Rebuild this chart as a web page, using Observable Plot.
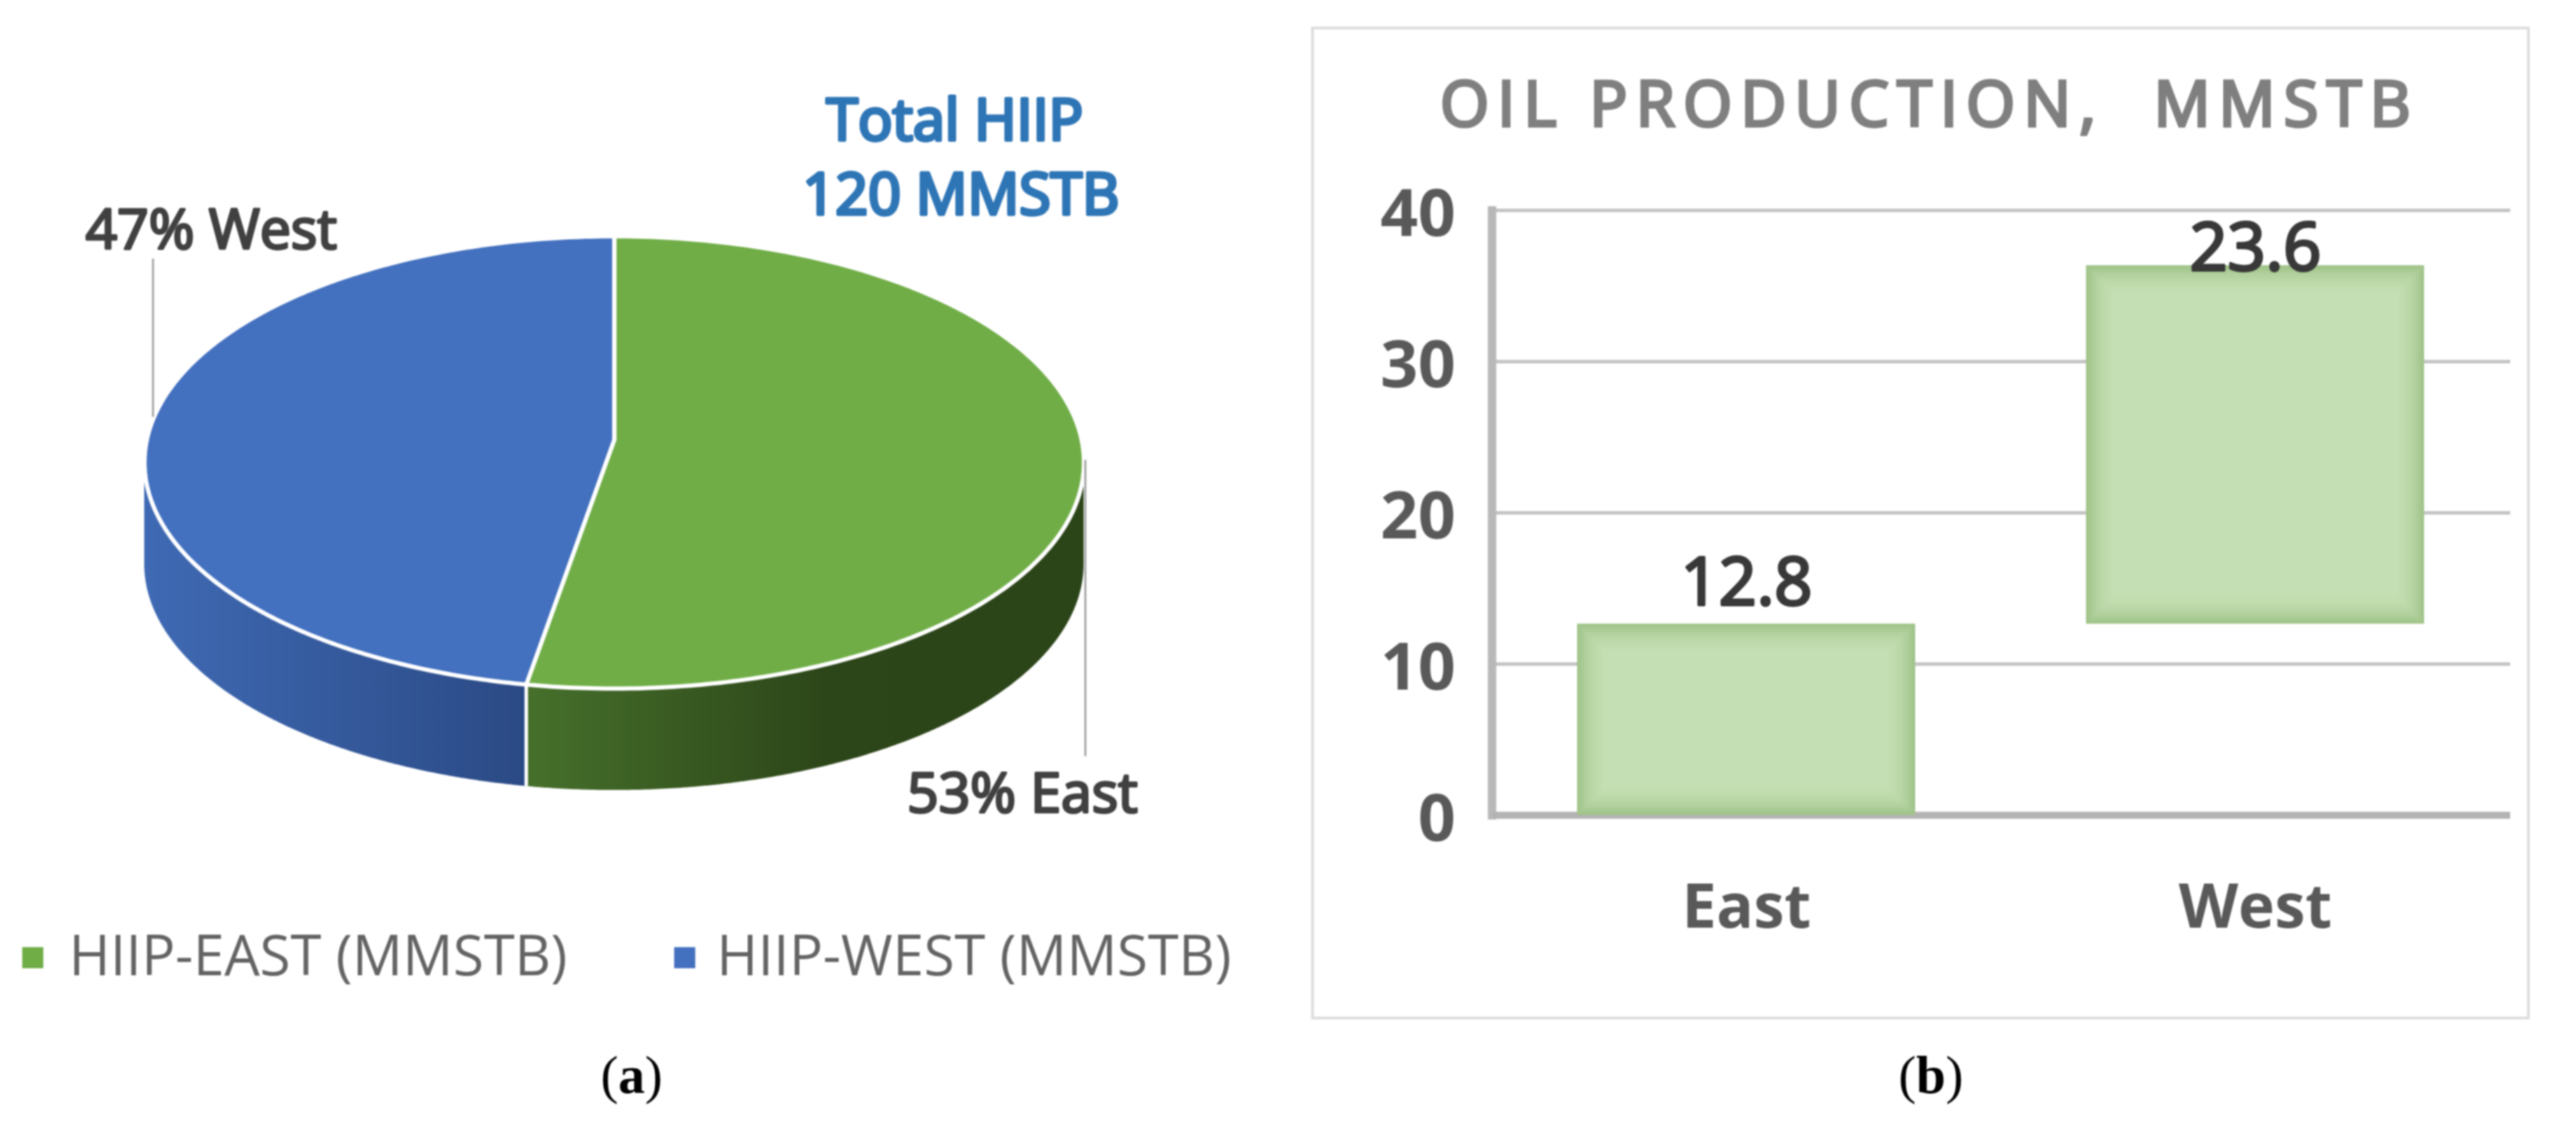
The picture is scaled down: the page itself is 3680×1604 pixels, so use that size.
<!DOCTYPE html>
<html><head><meta charset="utf-8">
<script src="https://cdn.jsdelivr.net/npm/d3@7"></script>
<script src="https://cdn.jsdelivr.net/npm/@observablehq/plot@0.6"></script>
<style>
html,body{margin:0;background:#fff}
#page{position:relative;width:3680px;height:1604px;overflow:hidden;font-family:"Open Sans",sans-serif;filter:blur(0.9px)}
#page>*{position:absolute}
.frame{left:1873px;top:38px;width:1733px;height:1410px;border:4px solid #dedede;box-sizing:content-box}
.title{left:1890px;top:95px;width:1733px;text-align:center;font-size:90px;line-height:100px;font-weight:400;-webkit-text-stroke:4.5px #7f7f7f;letter-spacing:12px;color:#7f7f7f;white-space:pre}
.cap{top:1495px;font-family:"Liberation Serif",serif;font-size:76px;line-height:80px;color:#000}
</style></head><body>
<div id="page">
<div class="frame"></div>
<div class="title">OIL PRODUCTION,  MMSTB</div>
<div class="cap" style="left:858px">(<b>a</b>)</div>
<div class="cap" style="left:2712px">(<b>b</b>)</div>
</div>
<script>
// Panel (a): share of HIIP
const regions = ["East", "West"];
const shares = [53, 47];
const legendLabels = ["HIIP-EAST (MMSTB)", "HIIP-WEST (MMSTB)"];
const sliceColors = ["#70ad47", "#4370bf"];
const totalLines = ["Total HIIP", "120 MMSTB"];

// Panel (b): oil production (labels as printed, bar extents as drawn)
const production = [12.8, 23.6];
const barBottoms = [0, 12.65];
const barTops = [12.65, 36.35];
const yTicks = [0, 10, 20, 30, 40];

// ---- pie geometry derived from the shares ----
const TAU = Math.PI * 2;
const tilt = 0.45, apexLift = 0.1;       // side depth and apex offset, in pie radii
const total = d3.sum(shares);
const split = shares[0] / total * TAU;   // clockwise from 12 o'clock
const rimPoint = a => ({a, x: Math.sin(a), y: Math.cos(a)});
const arc = (a0, a1) => d3.range(0, 241).map(i => rimPoint(a0 + (a1 - a0) * i / 240));
const apex = {x: 0, y: apexLift};
const face = (name, a0, a1) => [apex, ...arc(a0, a1), apex].map(p => ({...p, name}));
const faces = [...face("East", 0, split), ...face("West", split, TAU)];
const sideEast = arc(Math.PI / 2, split);
const sideWest = arc(split, Math.PI * 1.5);
const seam = rimPoint(split);

const gradient = (id, stops) => () => {
  const g = d3.create("svg:defs").append("linearGradient").attr("id", id);
  stops.forEach(([o, c]) => g.append("stop").attr("offset", o).attr("stop-color", c));
  return g.node().parentNode;
};

const leaderColor = "#a6a6a6", labelColor = "#404040";
const rx = 671, cx = 877, ry = 323, cy = 660;

const pie = Plot.plot({
  width: 1840, height: 1604, margin: 0,
  x: {domain: [-1, 1], range: [cx - rx, cx + rx], axis: null},
  y: {domain: [-1, 1], range: [cy + ry, cy - ry], axis: null},
  color: {domain: regions, range: sliceColors},
  marks: [
    gradient("sideE", [[0, "#46702b"], [0.55, "#2c4519"], [1, "#2b4418"]]),
    gradient("sideW", [[0, "#3f6ab4"], [1, "#2b4a85"]]),
    Plot.areaY(sideEast, {x: "x", y1: "y", y2: d => d.y - tilt, fill: "url(#sideE)"}),
    Plot.areaY(sideWest, {x: "x", y1: "y", y2: d => d.y - tilt, fill: "url(#sideW)"}),
    Plot.ruleX([seam.x], {y1: seam.y, y2: seam.y - tilt, stroke: "#fff", strokeWidth: 5}),
    Plot.line(faces, {x: "x", y: "y", z: "name", fill: "name", stroke: "#fff", strokeWidth: 6, curve: "linear", strokeLinejoin: "round"}),
    // leader lines
    Plot.ruleX([-0.982], {y1: 0.9, y2: 0.2, stroke: leaderColor, strokeWidth: 3}),
    Plot.ruleX([1.003], {y1: 0.01, y2: -1.3, stroke: leaderColor, strokeWidth: 3}),
    // data labels
    Plot.text(regions, {
      x: [0.869, -0.858], y: [-1.467, 1.025], text: (d, i) => `${shares[i]}% ${d}`,
      fontSize: 79, fill: labelColor, stroke: labelColor, strokeWidth: 3.6, fontFamily: "Open Sans"
    }),
    Plot.text(totalLines, {
      x: [0.725, 0.738], y: [1.508, 1.178], text: d => d,
      fontSize: 82, fill: "#2e75b6", stroke: "#2e75b6", strokeWidth: 5, fontFamily: "Open Sans"
    }),
    // legend
    Plot.dot(regions, {x: [-1.238, 0.15], y: -2.19, symbol: "square", r: 17, fill: d => d}),
    Plot.text(legendLabels, {
      x: [-1.161, 0.218], y: -2.19, text: d => d, textAnchor: "start",
      fontSize: 80, fill: "#636363", fontFamily: "Open Sans"
    })
  ]
});
pie.style.left = "0"; pie.style.top = "0";

const bars = regions.map((r, i) => ({r, from: barBottoms[i], to: barTops[i], v: production[i]}));
const glowLevels = 18;
const glow = d3.range(0, glowLevels).map(i => ({
  inset: i * 2.6,
  fill: d3.interpolateRgb("#9cc084", "#c4dfb3")(d3.easeQuadOut((i + 1) / glowLevels))
}));
const valueLabel = {x: "r", y: "to", text: d => d.v.toFixed(1), fontSize: 95, fill: "#383838", stroke: "#383838", strokeWidth: 4, fontFamily: "Open Sans"};

const chart = Plot.plot({
  width: 1840, height: 1604,
  marginLeft: 291, marginRight: 94, marginTop: 300, marginBottom: 440,
  x: {domain: regions, paddingInner: 0.335, paddingOuter: 0.1675, label: null},
  y: {domain: [0, 40], label: null},
  marks: [
    Plot.gridY(yTicks, {stroke: "#c4c4c4", strokeWidth: 5, strokeOpacity: 1}),
    Plot.frame({anchor: "left", stroke: "#b8b8b8", strokeWidth: 12}),
    Plot.ruleY([0], {stroke: "#b3b3b3", strokeWidth: 10}),
    ...glow.map(g => Plot.barY(bars, {x: "r", y1: "from", y2: "to", fill: g.fill, inset: g.inset})),
    Plot.axisY({ticks: yTicks, tickSize: 0, tickPadding: 52, dy: 6, fontSize: 94, fontWeight: 700, color: "#595959", fontFamily: "Open Sans", label: null}),
    Plot.axisX({tickSize: 0, tickPadding: 98, fontSize: 88, fontWeight: 700, color: "#595959", fontFamily: "Open Sans", label: null}),
    Plot.text(bars, {...valueLabel, filter: d => d.r === regions[0], dy: -58}),
    Plot.text(bars, {...valueLabel, filter: d => d.r === regions[1], dy: -24})
  ]
});
chart.style.left = "1840px"; chart.style.top = "0";
const page = document.getElementById("page");
page.prepend(pie); page.appendChild(chart);
for (const s of [pie, chart]) { s.style.position = "absolute"; s.style.maxWidth = "none"; s.style.background = "transparent"; }
</script>
</body></html>
